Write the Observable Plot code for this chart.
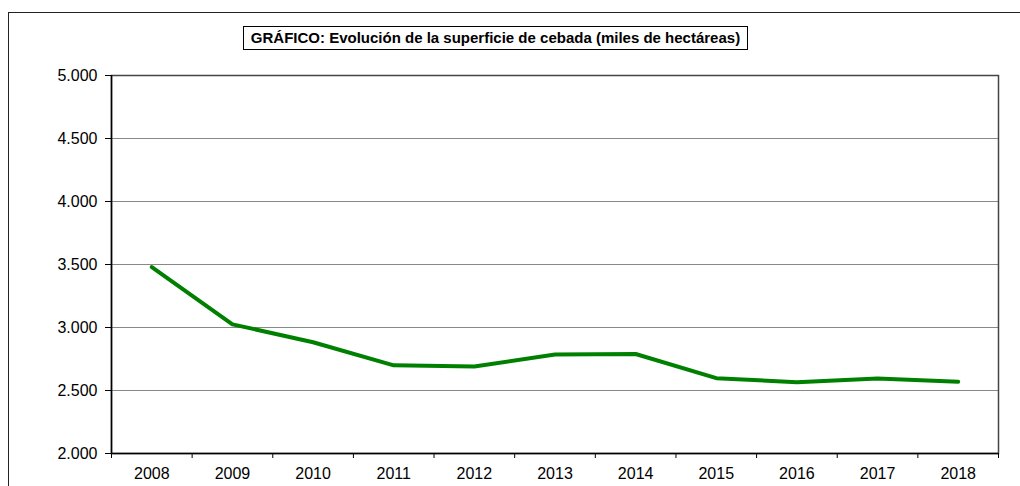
<!DOCTYPE html>
<html>
<head>
<meta charset="utf-8">
<script src="https://cdn.jsdelivr.net/npm/d3@7"></script>
<script src="https://cdn.jsdelivr.net/npm/@observablehq/plot@0.6"></script>
<style>
  html, body { margin: 0; padding: 0; background: #fff; }
  #wrap { position: relative; width: 1020px; height: 486px; overflow: hidden; font-family: "Liberation Sans", Arial, sans-serif; }
  #outer { position: absolute; left: 8px; top: 12px; width: 1030px; height: 520px; border: 1.5px solid #222; box-sizing: border-box; }
  #title { position: absolute; left: 243px; top: 26px; width: 505px; height: 24px; border: 1.5px solid #000; box-sizing: border-box;
           font-weight: bold; font-size: 15px; line-height: 21px; text-align: center; color: #000; white-space: nowrap; }
  #chart { position: absolute; left: 0; top: 0; }
</style>
</head>
<body>
<div id="wrap">
  <div id="outer"></div>
  <div id="chart"></div>
  <div id="title">GRÁFICO: Evolución de la superficie de cebada (miles de hectáreas)</div>
</div>
<script>
const years = [2008, 2009, 2010, 2011, 2012, 2013, 2014, 2015, 2016, 2017, 2018];
const superficie = [3480, 3025, 2883, 2700, 2690, 2785, 2790, 2598, 2565, 2595, 2570];
const yTicks = [2000, 2500, 3000, 3500, 4000, 4500, 5000];

const data = years.map((y, i) => ({year: y, value: superficie[i]}));
const boundaries = years.map(y => y - 0.5).concat([years[years.length - 1] + 0.5]);
const fmt = d3.formatLocale({decimal: ",", thousands: ".", grouping: [3], currency: ["", ""]}).format(",.0f");

const chart = Plot.plot({
  width: 1020,
  height: 486,
  marginLeft: 111,
  marginRight: 22,
  marginTop: 75,
  marginBottom: 33,
  style: {fontFamily: "'Liberation Sans', Arial, sans-serif", fontSize: "16px", color: "#000", background: "transparent"},
  x: {type: "linear", domain: [years[0] - 0.5, years[years.length - 1] + 0.5]},
  y: {domain: [2000, 5000]},
  marks: [
    Plot.gridY(yTicks.slice(1, -1), {stroke: "#888", strokeOpacity: 1, strokeWidth: 1}),
    Plot.frame({stroke: "#444", strokeWidth: 1.5}),
    Plot.ruleY([2000], {stroke: "#000", strokeWidth: 1.5}),
    Plot.ruleX([years[0] - 0.5], {stroke: "#000", strokeWidth: 1.5}),
    Plot.axisY({ticks: yTicks, tickSize: 6, tickPadding: 8, tickFormat: fmt, label: null, stroke: "#000", fill: "#000", fontSize: 16}),
    Plot.axisX({ticks: boundaries, tickSize: 5, tickFormat: () => "", label: null, stroke: "#000"}),
    Plot.axisX({ticks: years, tickSize: 0, tickPadding: 14.5, tickFormat: d => String(d), label: null, fill: "#000", fontSize: 16}),
    Plot.line(data, {x: "year", y: "value", stroke: "#008000", strokeWidth: 4, strokeLinejoin: "round"})
  ]
});
document.getElementById("chart").appendChild(chart);
</script>
</body>
</html>
